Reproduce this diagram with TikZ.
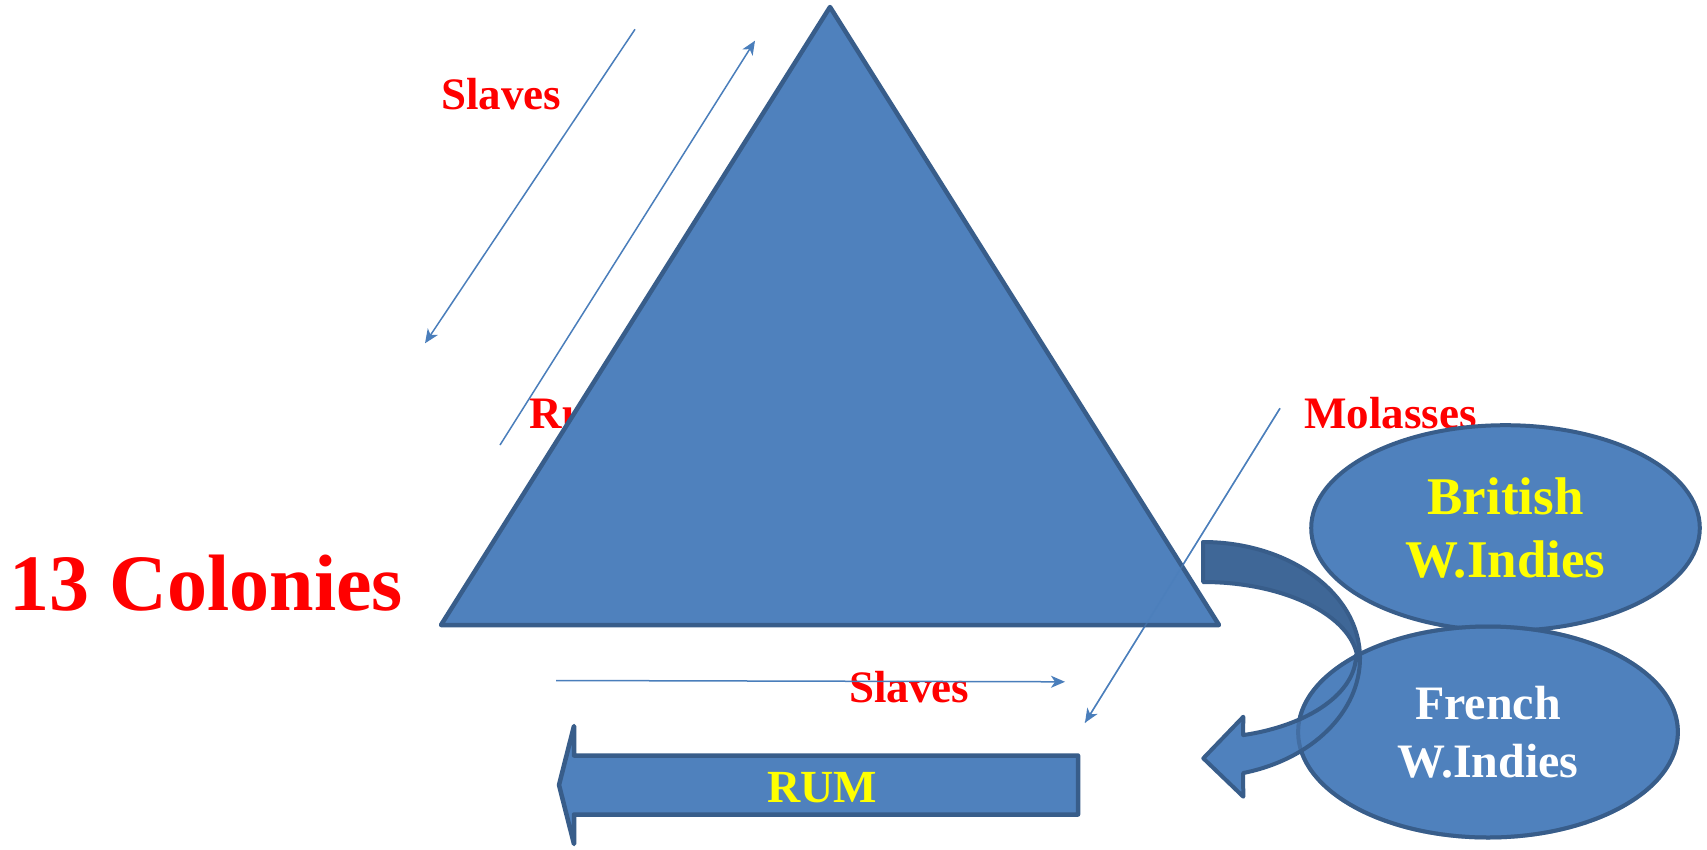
\documentclass[tikz,border=0pt]{standalone}
\usepackage{fontspec}
\setmainfont{Liberation Serif}
\usetikzlibrary{shapes.geometric,arrows.meta}
\definecolor{fillblue}{HTML}{4F81BD}
\definecolor{edgeblue}{HTML}{385D8A}
\definecolor{darkfill}{HTML}{3F6797}
\definecolor{lineblue}{HTML}{4A7EBB}
\definecolor{redtext}{HTML}{FF0000}
\definecolor{yellowtext}{HTML}{FFFF00}
\tikzset{
  lbl/.style={font=\bfseries\fontsize{45}{54}\selectfont, text=redtext, inner sep=0pt},
  shapeedge/.style={draw=edgeblue, line width=4.5pt, line join=round},
  flow/.style={draw=lineblue, line width=1.5pt, -{Stealth[length=14pt,width=12pt,inset=4pt]}},
  island/.style={ellipse, fill=fillblue, draw=edgeblue, line width=4pt, align=center, inner sep=0pt},
}
\begin{document}
\begin{tikzpicture}[x=1pt,y=-1pt]
\useasboundingbox (0,0) rectangle (1707,849);
\fill[white] (0,0) rectangle (1707,849);

% labels
\node[lbl, anchor=base west] (slavesA) at (441,109.3) {Slaves};
\node[lbl, anchor=base west] (rum) at (529.5,428.3) {Rum};
\node[lbl, anchor=base west] (molasses) at (1304,428.3) {Molasses};
\node[lbl, anchor=base] (slavesB) at (909,702) {Slaves};
\node[lbl, anchor=base west, font=\bfseries\fontsize{80}{96}\selectfont] (colonies) at (9.5,610.7) {13 Colonies};

% thin trade arrows
\coordinate (a1s) at (635,29.3);   \coordinate (a1e) at (425,343.3);
\coordinate (a2s) at (500,445);    \coordinate (a2e) at (755,40.7);
\coordinate (a3s) at (1280,408.3); \coordinate (a3e) at (1085,722.7);
\coordinate (a4s) at (556,680.5);  \coordinate (a4e) at (1065,681.8);
\draw[flow] (a1s) -- (a1e);
\draw[flow] (a2s) -- (a2e);
\draw[flow] (a3s) -- (a3e);
\draw[flow] (a4s) -- (a4e);

% triangle
\coordinate (apex) at (830,7);
\coordinate (tl) at (441,625);
\coordinate (tr) at (1219,625);
\filldraw[shapeedge, fill=fillblue] (apex) -- (tr) -- (tl) -- cycle;
\draw[lineblue, line width=1.5pt, opacity=0.5] (a3s) -- (a3e);

% RUM block arrow
\filldraw[shapeedge, fill=fillblue] (574,755.5) -- (574,726) -- (559,785) -- (574,844)
  -- (574,814.5) -- (1078,814.5) -- (1078,755.5) -- cycle;
\node[font=\bfseries\fontsize{46}{55}\selectfont, text=yellowtext, anchor=base, inner sep=0pt] (rumlbl) at (822,802) {RUM};

% islands
\node[island, minimum width=388.6pt, minimum height=205.6pt, text=yellowtext,
      font=\bfseries\fontsize{53}{63.3}\selectfont] (british) at (1505.5,528) {British\\W.Indies};
\node[island, minimum width=379.8pt, minimum height=211pt, text=white,
      font=\bfseries\fontsize{48}{58.3}\selectfont] (french) at (1488,732) {French\\W.Indies};

% curved arrow: back (darker) part
\filldraw[shapeedge, line width=4pt, fill=darkfill] (1203,542) arc[start angle=-90, end angle=0, x radius=157, y radius=116]
  -- (1358,664) arc[start angle=0, end angle=-90, x radius=155, y radius=82] -- cycle;
% front part with head
\filldraw[shapeedge, line width=4pt, fill=fillblue] (1356,655) arc[start angle=0, end angle=74.8, x radius=153, y radius=83]
  -- (1243.3,716.7) -- (1203.3,758.3) -- (1243.3,796.7) -- (1243.1,773.05)
  arc[start angle=75.2, end angle=0, x radius=157, y radius=119] -- cycle;
% French outline seen through the arrow
\draw[edgeblue, line width=4pt, draw opacity=0.5] (french.center) ellipse [x radius=189.9, y radius=105.5];
\end{tikzpicture}
\end{document}
